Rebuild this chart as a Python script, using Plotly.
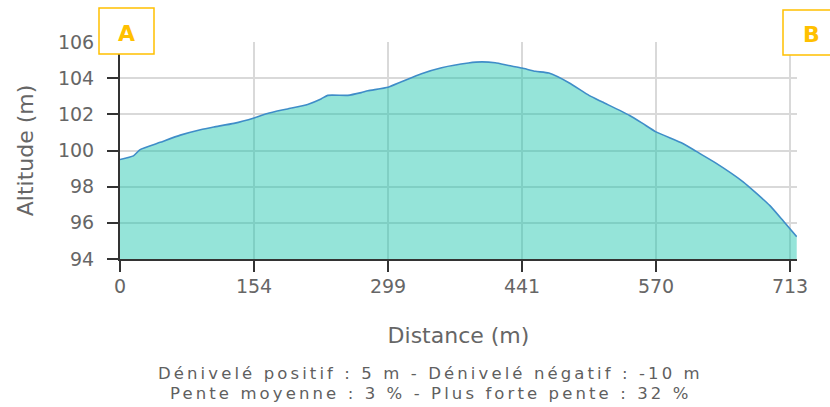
import plotly.graph_objects as go

# Sample index along the track and altitude (m)
point_index = [0, 2, 3, 6, 9, 12, 14, 17, 20, 22, 25, 28, 30, 31, 34, 36, 37, 40, 42, 45,
               48, 52, 54, 56, 58, 60, 62, 64, 67, 70, 72, 76, 78, 80, 84, 86, 89, 93, 95,
               97, 99, 101]
altitude = [99.5, 99.7, 100.05, 100.45, 100.85, 101.15, 101.3, 101.5, 101.8, 102.05, 102.3,
            102.55, 102.85, 103.05, 103.05, 103.2, 103.3, 103.5, 103.8, 104.25, 104.58,
            104.84, 104.9, 104.85, 104.7, 104.56, 104.38, 104.28, 103.75, 103.05, 102.68,
            101.95, 101.5, 101.03, 100.39, 99.95, 99.29, 98.27, 97.63, 96.95, 96.1, 95.23]

# Distance tick labels (m) shown at evenly spaced sample indices
tick_index = [0, 20, 40, 60, 80, 100]
tick_labels = ["0", "154", "299", "441", "570", "713"]
y_ticks = [94, 96, 98, 100, 102, 104, 106]

summary_line1 = "Dénivelé positif : 5 m - Dénivelé négatif : -10 m"
summary_line2 = "Pente moyenne : 3 % - Plus forte pente : 32 %"

W, H = 830, 407
L, R, T, B = 120, 33, 42, 148
PW, PH = W - L - R, H - T - B


def px(x):
    return (x - L) / PW


def py(y):
    return (H - B - y) / PH


FONT = "DejaVu Sans"
GREY = "#666666"
GOLD = "#FFC000"

fig = go.Figure()
fig.add_trace(go.Scatter(
    x=point_index, y=altitude, mode="lines",
    line=dict(color="#3f8dc8", width=1.6, shape="spline", smoothing=0.5),
    fill="tozeroy", fillcolor="rgba(20,196,170,0.45)",
    hoverinfo="skip", showlegend=False,
))

fig.update_layout(
    width=W, height=H,
    margin=dict(l=L, r=R, t=T, b=B, autoexpand=False),
    paper_bgcolor="white", plot_bgcolor="white",
    font=dict(family=FONT, color=GREY),
    xaxis=dict(
        range=[0, 101.04], tickvals=tick_index, ticktext=tick_labels,
        showgrid=True, gridcolor="#d9d9d9", gridwidth=1.5,
        showline=True, linecolor="#333333", linewidth=2,
        ticks="outside", ticklen=11, tickwidth=2, tickcolor="#333333",
        tickfont=dict(size=19, color=GREY, family=FONT),
        ticklabelstandoff=-2,
        zeroline=False, automargin=False,
        title=dict(text="Distance (m)", font=dict(size=22, color=GREY, family=FONT), standoff=32),
    ),
    yaxis=dict(
        range=[94, 106], tickvals=y_ticks,
        showgrid=True, gridcolor="#d9d9d9", gridwidth=1.5,
        showline=True, linecolor="#333333", linewidth=2,
        ticks="outside", ticklen=11, tickwidth=2, tickcolor="#333333",
        tickfont=dict(size=19, color=GREY, family=FONT),
        ticklabelstandoff=9,
        zeroline=False, automargin=False,
        title=dict(text="Altitude (m)", font=dict(size=22, color=GREY, family=FONT), standoff=18),
    ),
)

# Start / end marker boxes
for (x0, y0, x1, y1) in [(99, 8, 154, 54), (783, 10, 838, 55)]:
    fig.add_shape(type="rect", xref="paper", yref="paper",
                  x0=px(x0), x1=px(x1), y0=py(y1), y1=py(y0),
                  line=dict(color=GOLD, width=1.5), fillcolor="white", layer="above")

fig.add_annotation(text="<b>A</b>", xref="paper", yref="paper", x=px(126.5), y=py(33),
                   xanchor="center", yanchor="middle",
                   showarrow=False, font=dict(size=22, color=GOLD, family=FONT))
fig.add_annotation(text="<b>B</b>", xref="paper", yref="paper", x=px(811.5), y=py(34.5),
                   xanchor="center", yanchor="middle",
                   showarrow=False, font=dict(size=22, color=GOLD, family=FONT))

SPACED = '<span style="letter-spacing:3.1px">{}</span>'
fig.add_annotation(text=SPACED.format(summary_line1), xref="paper", yref="paper",
                   x=px(430), y=py(373.5), xanchor="center", yanchor="middle",
                   showarrow=False, font=dict(size=16.5, color="#5f5f5f", family=FONT))
fig.add_annotation(text=SPACED.format(summary_line2), xref="paper", yref="paper",
                   x=px(430), y=py(393), xanchor="center", yanchor="middle",
                   showarrow=False, font=dict(size=16.5, color="#5f5f5f", family=FONT))

fig.write_html("out.html", config={"displayModeBar": False},
               post_script="document.body.style.margin='0px';")
